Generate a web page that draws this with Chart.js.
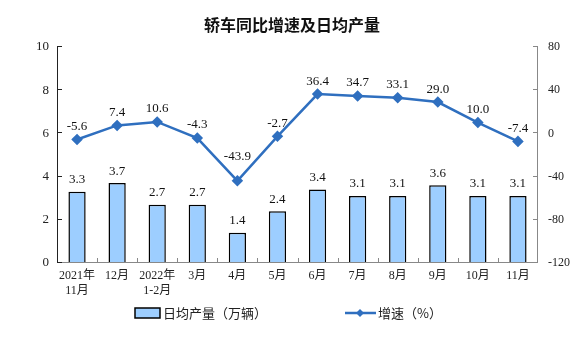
<!DOCTYPE html>
<html><head><meta charset="utf-8">
<script src="https://cdn.jsdelivr.net/npm/chart.js@4/dist/chart.umd.min.js"></script>
<style>html,body{margin:0;padding:0;background:#fff}#wrap{width:576px;height:358px}</style>
</head><body><div id="wrap"><canvas id="c" width="576" height="358"></canvas></div>
<script>
const categories = [["2021年","11月"],"12月",["2022年","1-2月"],"3月","4月","5月","6月","7月","8月","9月","10月","11月"];
const dailyOutput = [3.3,3.7,2.7,2.7,1.4,2.4,3.4,3.1,3.1,3.6,3.1,3.1];
const growthRate = [-5.6,7.4,10.6,-4.3,-43.9,-2.7,36.4,34.7,33.1,29.0,10.0,-7.4];
const leftTicks = [0,2,4,6,8,10];
const rightTicks = [-120,-80,-40,0,40,80];
const titleText = "轿车同比增速及日均产量";
const barLabel = "日均产量（万辆）";
const lineLabel = "增速（%）";

const serif = "'Liberation Serif','Noto Sans CJK SC',serif";
const lineColor = "#2F6FBF";
const barColor = "#9DCEFF";

const decor = {
  id: 'decor',
  afterDraw(chart) {
    const ctx = chart.ctx, a = chart.chartArea;
    const x = chart.scales.x, yL = chart.scales.y, yR = chart.scales.y1;
    ctx.save();
    ctx.lineWidth = 1;
    ctx.strokeStyle = '#222';
    ctx.beginPath(); ctx.moveTo(a.left+0.5, a.top); ctx.lineTo(a.left+0.5, a.bottom); ctx.stroke();
    ctx.strokeStyle = '#888';
    ctx.beginPath(); ctx.moveTo(a.right-0.5, a.top); ctx.lineTo(a.right-0.5, a.bottom); ctx.stroke();
    ctx.beginPath(); ctx.moveTo(a.left, a.bottom-0.5); ctx.lineTo(a.right, a.bottom-0.5); ctx.stroke();
    ctx.strokeStyle = '#222';
    leftTicks.forEach(v => { const y = Math.round(yL.getPixelForValue(v))-0.5; ctx.beginPath(); ctx.moveTo(a.left, y); ctx.lineTo(a.left+5, y); ctx.stroke(); });
    ctx.strokeStyle = '#888';
    rightTicks.forEach(v => { const y = Math.round(yR.getPixelForValue(v))-0.5; ctx.beginPath(); ctx.moveTo(a.right, y); ctx.lineTo(a.right-5, y); ctx.stroke(); });
    const n = categories.length;
    for (let i = 1; i < n; i++) {
      const px = Math.round((x.getPixelForValue(i-1) + x.getPixelForValue(i))/2)+0.5;
      ctx.beginPath(); ctx.moveTo(px, a.bottom); ctx.lineTo(px, a.bottom-5); ctx.stroke();
    }
    ctx.fillStyle = '#111';
    ctx.font = "13px " + serif;
    ctx.textAlign = 'center'; ctx.textBaseline = 'middle';
    const bm = chart.getDatasetMeta(0).data;
    bm.forEach((el, i) => ctx.fillText(dailyOutput[i].toFixed(1), el.x, el.y - 12));
    const lm = chart.getDatasetMeta(1).data;
    const minV = Math.min(...growthRate);
    lm.forEach((el, i) => ctx.fillText(growthRate[i].toFixed(1), el.x, el.y - (growthRate[i] === minV ? 24 : 13)));
    ctx.font = "bold 16px 'Noto Sans CJK SC',sans-serif";
    ctx.fillStyle = '#111';
    ctx.fillText(titleText, 292, 25);
    const ly = 313;
    ctx.fillStyle = barColor; ctx.fillRect(135, ly-5, 25, 10);
    ctx.strokeStyle = '#000'; ctx.lineWidth = 1.5; ctx.strokeRect(135, ly-5, 25, 10);
    ctx.font = "13px 'Noto Sans CJK SC',sans-serif";
    ctx.fillStyle = '#222'; ctx.textAlign = 'left';
    ctx.fillText(barLabel, 163, ly);
    ctx.strokeStyle = lineColor; ctx.lineWidth = 2.5;
    ctx.beginPath(); ctx.moveTo(345, ly); ctx.lineTo(376, ly); ctx.stroke();
    ctx.fillStyle = lineColor;
    ctx.beginPath(); ctx.moveTo(360, ly-4); ctx.lineTo(364, ly); ctx.lineTo(360, ly+4); ctx.lineTo(356, ly); ctx.closePath(); ctx.fill();
    ctx.fillStyle = '#222';
    ctx.fillText(lineLabel, 378, ly);
    ctx.restore();
  }
};

new Chart(document.getElementById('c'), {
  data: {
    labels: categories,
    datasets: [
      { type: 'bar', label: barLabel, data: dailyOutput, yAxisID: 'y', backgroundColor: barColor, borderColor: '#000', borderWidth: 1.5, categoryPercentage: 1, barPercentage: 0.43, order: 2 },
      { type: 'line', label: lineLabel, data: growthRate, yAxisID: 'y1', borderColor: lineColor, borderWidth: 2.5, pointStyle: 'rectRot', pointRadius: 4, pointBackgroundColor: lineColor, pointBorderColor: lineColor, tension: 0, order: 1 }
    ]
  },
  options: {
    responsive: false, animation: false,
    layout: { padding: { top: 47, bottom: 50, left: 0, right: 0 } },
    plugins: { legend: { display: false }, title: { display: false }, tooltip: { enabled: false } },
    scales: {
      x: {
        grid: { display: false, drawTicks: false }, border: { display: false },
        ticks: { color: '#222', font: { family: serif, size: 12 }, padding: 6, maxRotation: 0, autoSkip: false },
        afterFit(s) { s.height = 45; }
      },
      y: {
        position: 'left', min: 0, max: 10,
        grid: { display: false, drawTicks: false }, border: { display: false },
        ticks: { stepSize: 2, color: '#222', font: { family: serif, size: 13 }, padding: 8 },
        afterFit(s) { s.width = 57; }
      },
      y1: {
        position: 'right', min: -120, max: 80,
        grid: { display: false, drawTicks: false }, border: { display: false },
        ticks: { stepSize: 40, color: '#222', font: { family: serif, size: 12 }, padding: 10 },
        afterFit(s) { s.width = 38; }
      }
    }
  },
  plugins: [decor]
});
</script></body></html>
